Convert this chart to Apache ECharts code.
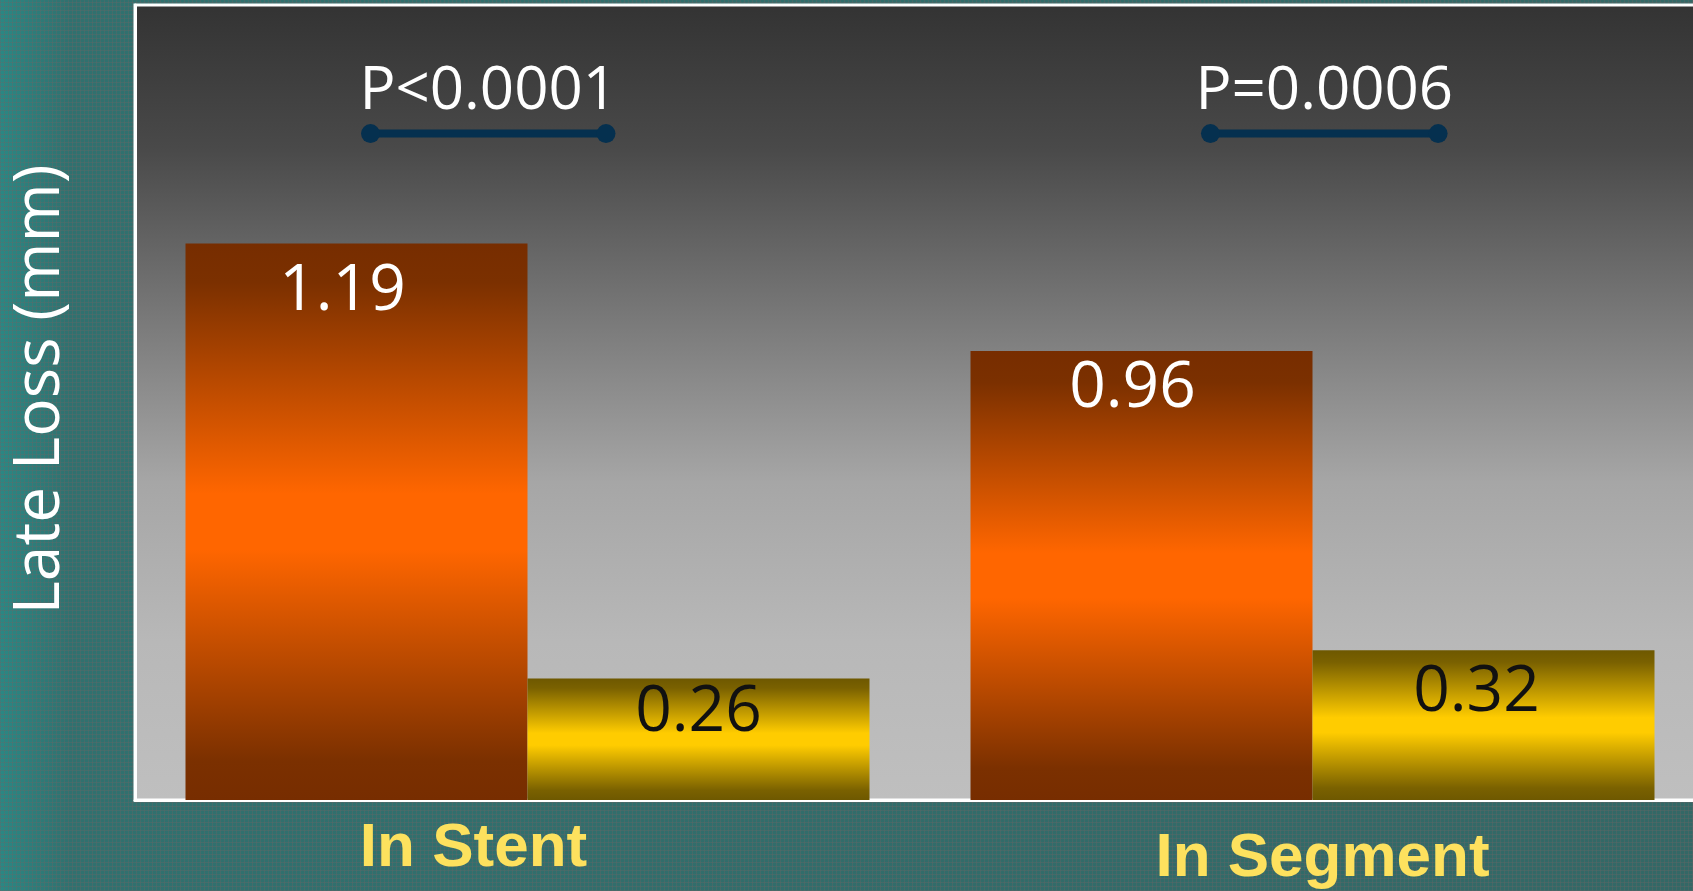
<!DOCTYPE html>
<html>
<head>
<meta charset="utf-8">
<title>Late Loss</title>
<script src="https://cdn.jsdelivr.net/npm/echarts@6/dist/echarts.min.js"></script>
<style>
  html, body { margin: 0; padding: 0; }
  body {
    width: 1693px; height: 891px; overflow: hidden;
    background:
      repeating-linear-gradient(0deg, rgba(110,100,100,0.32) 0 1px, transparent 1px 4px),
      repeating-linear-gradient(90deg, rgba(110,100,100,0.32) 0 1px, transparent 1px 4px),
      linear-gradient(90deg, #2a8884 0px, #30716f 70px, #336866 100%);
  }
  #chart { width: 1693px; height: 891px; }
</style>
</head>
<body>
<div id="chart"></div>
<script>
// Late loss by analysis segment
const categories = ['In Stent', 'In Segment'];
const controlLoss = [1.19, 0.96];
const treatedLoss = [0.26, 0.32];
const pValues = ['P<0.0001', 'P=0.0006'];

// Significance brackets: span inside each category band (0..1), on a hidden value axis
const BRACKETS = [{ from: 0.30, to: 0.60 }, { from: 0.37, to: 0.66 }];
const BRACKET_LEVEL = 1.425;
const P_TEXT_LEVEL = 1.515;

// Small pixel nudges for the value labels inside the bars
const CONTROL_LABEL_NUDGE = [[-14, 10], [-9, 0]];
const TREATED_LABEL_NUDGE = [[0, 0], [-7, 8]];

const vGrad = (stops) => ({
  type: 'linear', x: 0, y: 0, x2: 0, y2: 1,
  colorStops: stops.map(([offset, color]) => ({ offset, color }))
});

const orangeFill = vGrad([[0, '#772d00'], [0.07, '#7b3000'], [0.45, '#ff6600'], [0.55, '#ff6600'], [0.93, '#7b3000'], [1, '#772d00']]);
const yellowFill = vGrad([[0, '#6e5800'], [0.08, '#7a6100'], [0.45, '#ffcc00'], [0.55, '#ffcc00'], [0.92, '#7a6100'], [1, '#6e5800']]);

const valueFont = { fontFamily: 'Open Sans', fontSize: 64 };

const barData = (values, nudges) => values.map((v, i) => ({
  value: v,
  label: { offset: nudges[i] }
}));

const bracketSeries = BRACKETS.map((b, i) => ({
  type: 'line',
  xAxisIndex: 1,
  data: [[i + b.from, BRACKET_LEVEL], [i + b.to, BRACKET_LEVEL]],
  symbol: 'circle',
  symbolSize: 19,
  itemStyle: { color: '#05304f' },
  lineStyle: { color: '#05304f', width: 8 },
  silent: true,
  z: 5
}));

const pTextSeries = {
  type: 'scatter',
  xAxisIndex: 1,
  symbolSize: 0,
  itemStyle: { opacity: 1 },
  data: BRACKETS.map((b, i) => ({
    value: [i + (b.from + b.to) / 2, P_TEXT_LEVEL],
    name: pValues[i]
  })),
  label: {
    show: true,
    position: 'inside',
    formatter: (p) => p.name,
    color: '#ffffff',
    opacity: 1,
    fontFamily: 'Open Sans',
    fontSize: 60
  },
  silent: true,
  z: 6
};

const chart = echarts.init(document.getElementById('chart'), null, { renderer: 'canvas' });
chart.setOption({
  backgroundColor: 'transparent',
  animation: false,
  grid: {
    left: 135, top: 5, width: 1570, bottom: 91,
    outerBoundsMode: 'none',
    containLabel: false,
    show: true,
    backgroundColor: vGrad([[0, '#333333'], [0.18, '#494949'], [0.4, '#7a7a7a'], [0.6, '#a6a6a6'], [0.8, '#b8b8b8'], [1, '#bfbfbf']]),
    borderColor: '#ffffff',
    borderWidth: 3
  },
  xAxis: [{
    type: 'category',
    data: categories,
    axisLine: { show: true, lineStyle: { color: '#ffffff', width: 3 } },
    axisTick: { show: false },
    splitLine: { show: false },
    axisLabel: {
      margin: 18,
      formatter: (v, i) => (i === 0 ? '{a|' + v + '}' : '{b|' + v + '}'),
      rich: {
        a: { fontFamily: 'Liberation Sans', fontWeight: 'bold', fontSize: 62, color: '#fde15e', padding: [0, 108, 0, 0] },
        b: { fontFamily: 'Liberation Sans', fontWeight: 'bold', fontSize: 62, color: '#fde15e', padding: [10, 0, 0, 20] }
      }
    }
  }, {
    type: 'value', min: 0, max: 2, show: false
  }],
  yAxis: {
    type: 'value',
    min: 0, max: 1.7,
    axisLabel: { show: false },
    axisTick: { show: false },
    splitLine: { show: false },
    axisLine: { show: true, lineStyle: { color: '#ffffff', width: 3 } },
    name: 'Late Loss (mm)',
    nameLocation: 'middle',
    nameRotate: 90,
    nameGap: 62,
    nameTextStyle: { color: '#ffffff', fontFamily: 'Open Sans', fontSize: 64, padding: [0, 0, 0, 26] }
  },
  series: [{
    type: 'bar',
    data: barData(controlLoss, CONTROL_LABEL_NUDGE),
    barWidth: 342,
    barGap: '0%',
    itemStyle: { color: orangeFill },
    label: { show: true, position: 'insideTop', distance: 6, color: '#ffffff', ...valueFont, formatter: (p) => p.value.toFixed(2) }
  }, {
    type: 'bar',
    data: barData(treatedLoss, TREATED_LABEL_NUDGE),
    barWidth: 342,
    barGap: '0%',
    itemStyle: { color: yellowFill },
    label: { show: true, position: 'insideTop', distance: 2, color: '#111111', ...valueFont, formatter: (p) => p.value.toFixed(2) }
  }, ...bracketSeries, pTextSeries]
});
</script>
</body>
</html>
